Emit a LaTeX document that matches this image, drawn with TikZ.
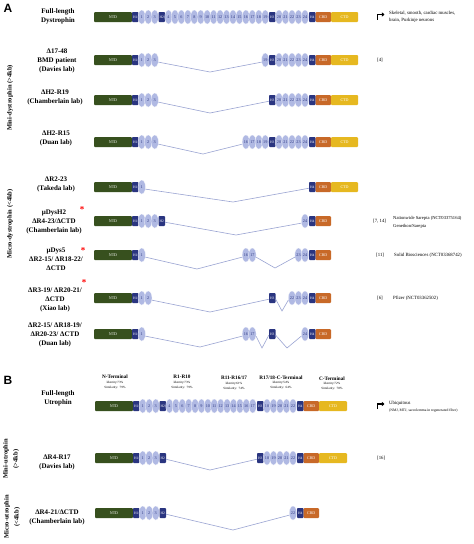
\documentclass[tikz,border=0pt]{standalone}
\usepackage{fontspec}
\setmainfont{Liberation Serif}
\newfontfamily\sansbold{Liberation Sans}
\usetikzlibrary{shapes.geometric,arrows.meta}
\definecolor{ntdc}{HTML}{37501E}
\definecolor{hc}{HTML}{2A3580}
\definecolor{repc}{HTML}{B0B9E3}
\definecolor{crdc}{HTML}{C86928}
\definecolor{ctdc}{HTML}{E6B820}
\definecolor{connc}{HTML}{9AA4D2}
\tikzset{
 dom/.style={rectangle, rounded corners=1pt, inner sep=0pt, minimum height=10pt, text=white, font=\fontsize{4}{4}\selectfont},
 ntd/.style={dom, fill=ntdc, minimum width=38pt},
 hb/.style={dom, fill=hc, minimum width=6.5pt, rounded corners=0.8pt, font=\fontsize{3.6}{4}\selectfont},
 crd/.style={dom, fill=crdc, minimum width=15.5pt},
 ctd/.style={dom, fill=ctdc, minimum width=27pt},
 rep/.style={ellipse, fill=repc, draw=white, line width=0.25pt, inner sep=0pt, minimum width=7.5pt, minimum height=14pt, text=hc, font=\fontsize{4.2}{4}\selectfont},
 conn/.style={draw=connc, line width=0.6pt},
 lbl/.style={align=center, font=\bfseries\fontsize{7}{9}\selectfont},
 sidelbl/.style={rotate=90, align=center, font=\bfseries\fontsize{6.5}{10}\selectfont},
 reftxt/.style={anchor=west, font=\fontsize{4.8}{7}\selectfont, align=left, inner sep=0pt},
 redstar/.style={text=red, font=\bfseries\fontsize{9}{9}\selectfont, inner sep=0pt},
 hdrb/.style={align=center, font=\bfseries\fontsize{5.2}{6}\selectfont, inner sep=0pt},
 hdr/.style={align=center, font=\fontsize{3.2}{4.6}\selectfont, inner sep=0pt},
 icon/.style={line width=1.3pt, -{Triangle[length=2.6pt,width=4.2pt]}},
}
% dystrophin repeats
\newcommand\dreps[4]{%
 \foreach \n in {#3,...,#4}{%
   \ifnum\n<4 \pgfmathsetmacro\repx{135.25+6.5*\n}\else\ifnum\n<20 \pgfmathsetmacro\repx{168.5+6.45*(\n-4)}\else\pgfmathsetmacro\repx{279+6.5*(\n-20)}\fi\fi
   \node[rep] (#1r\n) at (\repx,#2) {\n};
 }}
% utrophin repeats
\newcommand\ureps[4]{%
 \foreach \n in {#3,...,#4}{%
   \ifnum\n<4 \pgfmathsetmacro\repx{136.25+6.5*\n}\else\ifnum\n<18 \pgfmathsetmacro\repx{169.5+6.4*(\n-4)}\else\pgfmathsetmacro\repx{267+6.5*(\n-18)}\fi\fi
   \node[rep] (#1r\n) at (\repx,#2) {\n};
 }}
\begin{document}
\begin{tikzpicture}[x=1pt,y=-1pt]
\fill[white] (0,0) rectangle (474,544);
\useasboundingbox (0,0) rectangle (474,544);

% panel letters
\node[font=\sansbold\bfseries\fontsize{12}{12}\selectfont] (pA) at (8,8) {A};
\node[font=\sansbold\bfseries\fontsize{12}{12}\selectfont] (pB) at (8,380) {B};

% side labels
\node[sidelbl] (sMini) at (10,98) {Mini-dystrophin (>4kb)};
\node[sidelbl] (sMicro) at (10,224) {Micro-dystrophin (<4kb)};
\node[sidelbl] (sMiniU) at (11,459) {Mini-utrophin\\(>4kb)};
\node[sidelbl] (sMicroU) at (12,517) {Micro-utrophin\\(<4kb)};

% left labels
\node[lbl] (l0) at (58,16) {Full-length\\Dystrophin};
\node[lbl] (l1) at (57,61) {Δ17-48\\BMD patient\\(Davies lab)};
\node[lbl] (l2) at (55,97.5) {ΔH2-R19\\(Chamberlain lab)};
\node[lbl] (l3) at (56,138) {ΔH2-R15\\(Duan lab)};
\node[lbl] (l4) at (56,184.5) {ΔR2-23\\(Takeda lab)};
\node[lbl] (l5) at (54,221.5) {µDysH2\\ΔR4-23/ΔCTD\\(Chamberlain lab)};
\node[lbl] (l6) at (56,259) {µDys5\\ΔR2-15/ ΔR18-22/\\ΔCTD};
\node[lbl] (l7) at (55,299.5) {ΔR3-19/ ΔR20-21/\\ΔCTD\\(Xiao lab)};
\node[lbl] (l8) at (55,334.5) {ΔR2-15/ ΔR18-19/\\ΔR20-23/ ΔCTD\\(Duan lab)};
\node[lbl] (l9) at (58,398.5) {Full-length\\Utrophin};
\node[lbl] (l10) at (57,462.5) {ΔR4-R17\\(Davies lab)};
\node[lbl] (l11) at (57,517.5) {ΔR4-21/ΔCTD\\(Chamberlain lab)};

\node[redstar] (st1) at (82,210) {*};
\node[redstar] (st2) at (83,251) {*};
\node[redstar] (st3) at (84,283) {*};

% ---------- row a0: full-length dystrophin ----------
\node[ntd] (a0n) at (113,17) {NTD};
\node[hb] (a0h1) at (135.25,17) {H1};
\dreps{a0}{17}{1}{3}
\node[hb] (a0h2) at (161.75,17) {H2};
\dreps{a0}{17}{4}{19}
\node[hb] (a0h3) at (272.25,17) {H3};
\dreps{a0}{17}{20}{24}
\node[hb] (a0h4) at (312.25,17) {H4};
\node[crd] (a0c) at (323.25,17) {CRD};
\node[ctd] (a0t) at (344.5,17) {CTD};

% ---------- row a1 ----------
\node[ntd] (a1n) at (113,60) {NTD};
\node[hb] (a1h1) at (135.25,60) {H1};
\dreps{a1}{60}{1}{3}
\dreps{a1}{60}{19}{19}
\node[hb] (a1h3) at (272.25,60) {H3};
\dreps{a1}{60}{20}{24}
\node[hb] (a1h4) at (312.25,60) {H4};
\node[crd] (a1c) at (323.25,60) {CRD};
\node[ctd] (a1t) at (344.5,60) {CTD};
\coordinate (v1) at (210,72);
\draw[conn] (a1r3.-30) -- (v1) -- (a1r19.210);

% ---------- row a2 ----------
\node[ntd] (a2n) at (113,100) {NTD};
\node[hb] (a2h1) at (135.25,100) {H1};
\dreps{a2}{100}{1}{3}
\node[hb] (a2h3) at (272.25,100) {H3};
\dreps{a2}{100}{20}{24}
\node[hb] (a2h4) at (312.25,100) {H4};
\node[crd] (a2c) at (323.25,100) {CRD};
\node[ctd] (a2t) at (344.5,100) {CTD};
\coordinate (v2) at (210,113);
\draw[conn] (a2r3.-30) -- (v2) -- (a2h3.200);

% ---------- row a3 ----------
\node[ntd] (a3n) at (113,142) {NTD};
\node[hb] (a3h1) at (135.25,142) {H1};
\dreps{a3}{142}{1}{3}
\dreps{a3}{142}{16}{19}
\node[hb] (a3h3) at (272.25,142) {H3};
\dreps{a3}{142}{20}{24}
\node[hb] (a3h4) at (312.25,142) {H4};
\node[crd] (a3c) at (323.25,142) {CRD};
\node[ctd] (a3t) at (344.5,142) {CTD};
\coordinate (v3) at (203,154);
\draw[conn] (a3r3.-30) -- (v3) -- (a3r16.210);

% ---------- row a4 ----------
\node[ntd] (a4n) at (113,187) {NTD};
\node[hb] (a4h1) at (135.25,187) {H1};
\dreps{a4}{187}{1}{1}
\node[hb] (a4h4) at (312.25,187) {H4};
\node[crd] (a4c) at (323.25,187) {CRD};
\node[ctd] (a4t) at (344.5,187) {CTD};
\coordinate (v4) at (233,202);
\draw[conn] (a4r1.-30) -- (v4) -- (a4h4.200);

% ---------- row a5 ----------
\node[ntd] (a5n) at (113,221) {NTD};
\node[hb] (a5h1) at (135.25,221) {H1};
\dreps{a5}{221}{1}{3}
\node[hb] (a5h2) at (161.75,221) {H2};
\dreps{a5}{221}{24}{24}
\node[hb] (a5h4) at (312.25,221) {H4};
\node[crd] (a5c) at (323.25,221) {CRD};
\coordinate (v5) at (236,235);
\draw[conn] (a5h2.-20) -- (v5) -- (a5r24.210);

% ---------- row a6 ----------
\node[ntd] (a6n) at (113,255) {NTD};
\node[hb] (a6h1) at (135.25,255) {H1};
\dreps{a6}{255}{1}{1}
\dreps{a6}{255}{16}{17}
\dreps{a6}{255}{23}{24}
\node[hb] (a6h4) at (312.25,255) {H4};
\node[crd] (a6c) at (323.25,255) {CRD};
\coordinate (v6a) at (197,269);
\coordinate (v6b) at (275,268);
\draw[conn] (a6r1.-30) -- (v6a) -- (a6r16.210);
\draw[conn] (a6r17.-30) -- (v6b) -- (a6r23.210);

% ---------- row a7 ----------
\node[ntd] (a7n) at (113,298) {NTD};
\node[hb] (a7h1) at (135.25,298) {H1};
\dreps{a7}{298}{1}{2}
\node[hb] (a7h3) at (272.25,298) {H3};
\dreps{a7}{298}{22}{24}
\node[hb] (a7h4) at (312.25,298) {H4};
\node[crd] (a7c) at (323.25,298) {CRD};
\coordinate (v7a) at (210,312);
\coordinate (v7b) at (282,311);
\draw[conn] (a7r2.-30) -- (v7a) -- (a7h3.200);
\draw[conn] (a7h3.-20) -- (v7b) -- (a7r22.210);

% ---------- row a8 ----------
\node[ntd] (a8n) at (113,334) {NTD};
\node[hb] (a8h1) at (135.25,334) {H1};
\dreps{a8}{334}{1}{1}
\dreps{a8}{334}{16}{17}
\node[hb] (a8h3) at (272.25,334) {H3};
\dreps{a8}{334}{24}{24}
\node[hb] (a8h4) at (312.25,334) {H4};
\node[crd] (a8c) at (323.25,334) {CRD};
\coordinate (v8a) at (200,347);
\coordinate (v8b) at (262,348);
\coordinate (v8c) at (287,348);
\draw[conn] (a8r1.-30) -- (v8a) -- (a8r16.210);
\draw[conn] (a8r17.-30) -- (v8b) -- (a8h3.200);
\draw[conn] (a8h3.-20) -- (v8c) -- (a8r24.210);

% ---------- utrophin headers ----------
\node[hdrb] (hN) at (115,377) {N-Terminal};
\node[hdr] (hNp) at (115,385) {Identity:73\%\\Similarity:\ \ 79\%};
\node[hdrb] (hR1) at (182,377) {R1-R10};
\node[hdr] (hR1p) at (182,385) {Identity:73\%\\Similarity:\ \ 79\%};
\node[hdrb] (hR11) at (234,378) {R11-R16/17};
\node[hdr] (hR11p) at (234,386) {Identity:61\%\\Similarity:\ \ 74\%};
\node[hdrb] (hR17) at (281,377.5) {R17/18-C-Terminal};
\node[hdr] (hR17p) at (281,385.5) {Identity:54\%\\Similarity:\ \ 64\%};
\node[hdrb] (hC) at (332,378.5) {C-Terminal};
\node[hdr] (hCp) at (332,386.5) {Identity:72\%\\Similarity:\ \ 78\%};

% ---------- row b0: full-length utrophin ----------
\node[ntd] (b0n) at (114,406) {NTD};
\node[hb] (b0h1) at (136.25,406) {H1};
\ureps{b0}{406}{1}{3}
\node[hb] (b0h2) at (162.75,406) {H2};
\ureps{b0}{406}{4}{17}
\node[hb] (b0h3) at (260.25,406) {H3};
\ureps{b0}{406}{18}{22}
\node[hb] (b0h4) at (300.25,406) {H4};
\node[crd] (b0c) at (311.25,406) {CRD};
\node[ctd, minimum width=28pt] (b0t) at (333,406) {CTD};

% ---------- row b1 ----------
\node[ntd] (b1n) at (114,458) {NTD};
\node[hb] (b1h1) at (136.25,458) {H1};
\ureps{b1}{458}{1}{3}
\node[hb] (b1h2) at (162.75,458) {H2};
\node[hb] (b1h3) at (260.25,458) {H3};
\ureps{b1}{458}{18}{22}
\node[hb] (b1h4) at (300.25,458) {H4};
\node[crd] (b1c) at (311.25,458) {CRD};
\node[ctd, minimum width=28pt] (b1t) at (333,458) {CTD};
\coordinate (w1) at (210,470);
\draw[conn] (b1h2.-20) -- (w1) -- (b1h3.200);

% ---------- row b2 ----------
\node[ntd] (b2n) at (114,513) {NTD};
\node[hb] (b2h1) at (136.25,513) {H1};
\ureps{b2}{513}{1}{3}
\node[hb] (b2h2) at (162.75,513) {H2};
\ureps{b2}{513}{22}{22}
\node[hb] (b2h4) at (300.25,513) {H4};
\node[crd] (b2c) at (311.25,513) {CRD};
\coordinate (w2) at (233,530);
\draw[conn] (b2h2.-20) -- (w2) -- (b2r22.210);

% ---------- right-hand notes ----------
\draw[icon] (377.5,19.5) -- (377.5,14.5) -- (384.5,14.5);
\node[reftxt] (n0) at (389,17.3) {Skeletal, smooth, cardiac muscles,\\brain, Purkinje neurons};
\node[reftxt] (n1) at (377,60) {[4]};
\node[reftxt] (n5a) at (373,221) {[7, 14]};
\node[reftxt, font=\fontsize{4.6}{7.5}\selectfont] (n5b) at (393,222.5) {Nationwide Sarepta (NCT03375164)\\Genethon/Sarepta};
\node[reftxt] (n6a) at (376,255) {[11]};
\node[reftxt] (n6b) at (394,255) {Solid Biosciences (NCT03368742)};
\node[reftxt] (n7a) at (377,298) {[6]};
\node[reftxt] (n7b) at (393,298) {Pfizer (NCT03362502)};
\draw[icon] (377.5,409) -- (377.5,404) -- (384.5,404);
\node[reftxt] (nu1) at (389,403) {Ubiquitous};
\node[reftxt, font=\fontsize{3.7}{4}\selectfont] (nu2) at (389,410.5) {(NMJ, MTJ, sarcolemma in regenerated fiber)};
\node[reftxt] (nu3) at (377,458) {[16]};
\end{tikzpicture}
\end{document}
